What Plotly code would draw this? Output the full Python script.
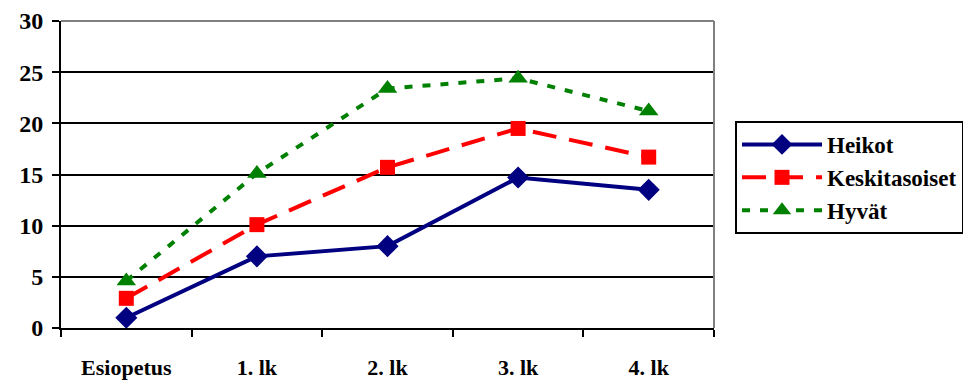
import plotly.graph_objects as go

categories = ["Esiopetus", "1. lk", "2. lk", "3. lk", "4. lk"]
heikot = [1.0, 7.0, 8.0, 14.7, 13.5]
keskitasoiset = [2.9, 10.1, 15.7, 19.5, 16.7]
hyvat = [4.6, 15.1, 23.4, 24.4, 21.2]

font = "Liberation Serif"

fig = go.Figure()
fig.add_trace(go.Scatter(x=categories, y=heikot, name="Heikot", mode="lines+markers",
                         line=dict(color="#000080", width=4),
                         marker=dict(symbol="diamond", size=17, color="#000080")))
fig.add_trace(go.Scatter(x=categories, y=keskitasoiset, name="Keskitasoiset", mode="lines+markers",
                         line=dict(color="#FF0000", width=4, dash="24px,13px"),
                         marker=dict(symbol="square", size=15, color="#FF0000")))
fig.add_trace(go.Scatter(x=categories, y=hyvat, name="Hyvät", mode="lines+markers",
                         line=dict(color="#008000", width=4, dash="8px,10px"),
                         marker=dict(symbol="triangle-up", size=17, color="#008000")))

# the page body adds an 8px offset; figure coordinates are page coordinates minus 8
OFF = 8
W, H = 971 - OFF, 380 - OFF
L, T = 61 - OFF, 21 - OFF
R = W - (714 - OFF)
B = H - (328 - OFF)

fig.update_layout(
    width=W, height=H,
    margin=dict(l=L, r=R, t=T, b=B, autoexpand=False),
    paper_bgcolor="white", plot_bgcolor="white",
    font=dict(family=font, size=22, color="black", weight="bold"),
    showlegend=True,
    legend=dict(x=(735 - OFF - L) / (W - L - R), xanchor="left",
                y=(H - B - (121 - OFF)) / (H - T - B), yanchor="top",
                bgcolor="white", bordercolor="black", borderwidth=2,
                font=dict(family=font, size=23, color="black", weight="bold"),
                itemwidth=80, tracegroupgap=0),
    xaxis=dict(type="category", range=[-0.5, 4.5], tickson="boundaries", ticks="outside",
               ticklen=7, tickwidth=2, tickcolor="black", showgrid=False,
               showline=True, linecolor="black", linewidth=2, zeroline=False,
               automargin=False, ticklabelstandoff=19,
               tickfont=dict(family=font, size=22, color="black", weight="bold")),
    yaxis=dict(range=[0, 30], dtick=5, ticks="outside", ticklen=7, tickwidth=2,
               tickcolor="black", showgrid=True, gridcolor="black", gridwidth=2,
               showline=True, linecolor="black", linewidth=2, zeroline=False,
               automargin=False, ticklabelstandoff=4,
               tickfont=dict(family=font, size=24, color="black", weight="bold")),
)
# gray top/right border of plot area
fig.add_shape(type="line", xref="paper", yref="paper", x0=0, x1=1, y0=1, y1=1,
              line=dict(color="#808080", width=2))
fig.add_shape(type="line", xref="paper", yref="paper", x0=1, x1=1, y0=0, y1=1,
              line=dict(color="#808080", width=2))

fig.write_html("out.html")
